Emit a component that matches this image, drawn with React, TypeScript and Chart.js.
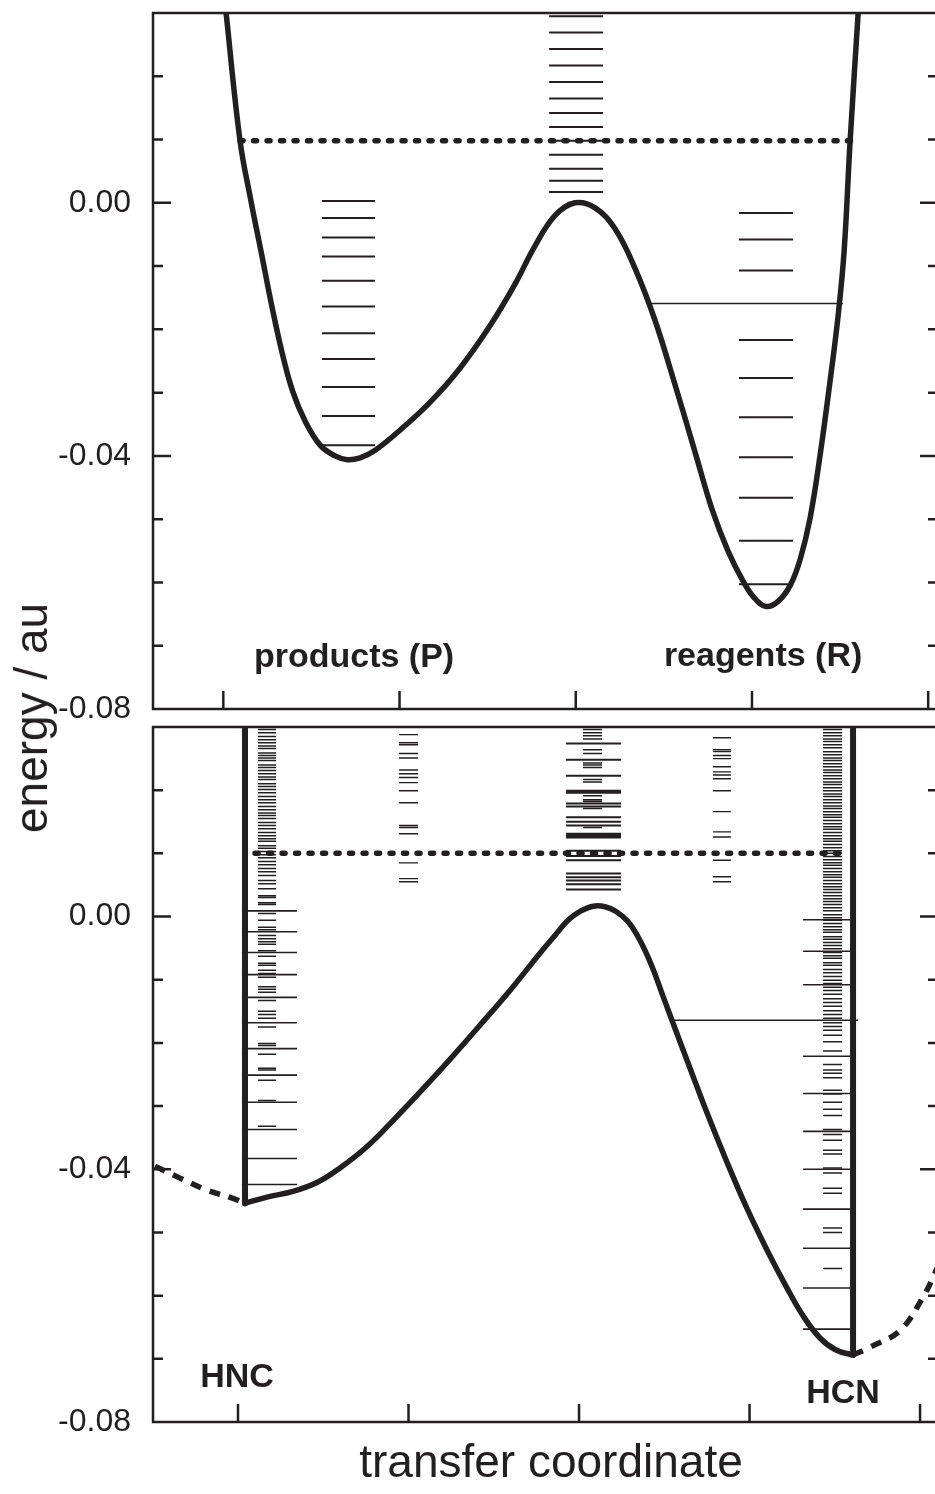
import React, { useEffect, useRef } from "react";
import { Chart, registerables } from "chart.js";

Chart.register(...registerables);

const FONT = '"Liberation Sans", Arial, Helvetica, sans-serif';
const INK = "#231f20";

// ---------- axes ----------
const energyMin = -0.08;
const energyMax = 0.03;
const energyLabelTicks = [-0.08, -0.04, 0];
const energyMinorTicks = [-0.07, -0.06, -0.05, -0.03, -0.02, -0.01, 0.01, 0.02, 0.03];
const coordTicks = [0, 1, 2, 3, 4];
const upperCoordRange = [-0.399, 4.067];
const lowerCoordRange = [-0.4985, 4.117];

// ---------- upper panel: model double well ----------
const upperCoord = [0.012, 0.095, 0.157, 0.22, 0.276, 0.339, 0.395, 0.464, 0.549, 0.634, 0.703, 0.776, 0.862, 1.004, 1.174, 1.344, 1.514, 1.656, 1.769, 1.883, 1.996, 2.11, 2.223, 2.337, 2.45, 2.564, 2.677, 2.774, 2.865, 2.944, 3.012, 3.08, 3.148, 3.216, 3.273, 3.33, 3.387, 3.444, 3.489, 3.523, 3.557, 3.605];
const upperEnergy = [0.031, 0.0098, 0.0003, -0.0085, -0.0164, -0.0243, -0.0299, -0.0345, -0.0383, -0.04, -0.0406, -0.0403, -0.0391, -0.0359, -0.0315, -0.0261, -0.0194, -0.0128, -0.0068, -0.002, 0.0, -0.0008, -0.0041, -0.0104, -0.0186, -0.0288, -0.0394, -0.0485, -0.0551, -0.0595, -0.0624, -0.0638, -0.063, -0.0605, -0.0564, -0.0498, -0.0398, -0.028, -0.0178, -0.0076, 0.0098, 0.031];

const upperProductLevels = [0.0003, -0.0024, -0.0055, -0.0085, -0.0123, -0.0164, -0.0206, -0.0247, -0.0291, -0.0337, -0.0383];
const upperBarrierLevels = [0.0295, 0.0269, 0.0243, 0.0217, 0.0191, 0.0165, 0.0142, 0.012, 0.0098, 0.0076, 0.0054, 0.0035, 0.0017];
const upperReagentLevels = [-0.0016, -0.0058, -0.0107, -0.0217, -0.0277, -0.0339, -0.0402, -0.0466, -0.0534, -0.0603];
const upperCrossLevel = [-0.0159];
const upperThreshold = [0.0098];

// ---------- lower panel: HNC / HCN isomerisation ----------
const lowerCoord = [0.041, 0.17, 0.323, 0.463, 0.598, 0.757, 0.909, 1.067, 1.243, 1.419, 1.595, 1.771, 1.865, 1.935, 2.006, 2.076, 2.147, 2.217, 2.287, 2.358, 2.428, 2.487, 2.545, 2.651, 2.751, 2.868, 2.985, 3.103, 3.22, 3.314, 3.413, 3.507, 3.607];
const lowerEnergy = [-0.0454, -0.0444, -0.0435, -0.0421, -0.0398, -0.0364, -0.0323, -0.0278, -0.0226, -0.0172, -0.0117, -0.0058, -0.0028, -0.0006, 0.0008, 0.0016, 0.0016, 0.0008, -0.0008, -0.0038, -0.0079, -0.0122, -0.0164, -0.024, -0.0311, -0.0389, -0.0462, -0.0528, -0.0588, -0.0632, -0.0667, -0.0686, -0.0694];
const hncTailCoord = [-0.487, -0.34, -0.182, -0.029, 0.041];
const hncTailEnergy = [-0.0395, -0.0414, -0.0433, -0.0446, -0.0454];
const hcnTailCoord = [3.607, 3.695, 3.883, 4.018, 4.088, 4.147];
const hcnTailEnergy = [-0.0694, -0.0683, -0.0655, -0.0602, -0.0564, -0.0528];
const hncWallCoord = [0.041, 0.041];
const hncWallEnergy = [0.031, -0.0454];
const hcnWallCoord = [3.607, 3.607];
const hcnWallEnergy = [0.031, -0.0694];

const hncBoundLevels = [0.0009, -0.0024, -0.0057, -0.0092, -0.0128, -0.0168, -0.0209, -0.0251, -0.0294, -0.0337, -0.0383, -0.0424];
const hncStateLevels = [0.0296, 0.0291, 0.0285, 0.028, 0.0275, 0.027, 0.0266, 0.0259, 0.0255, 0.0251, 0.0247, 0.024, 0.0236, 0.0231, 0.0226, 0.0221, 0.0217, 0.021, 0.0206, 0.0201, 0.0196, 0.019, 0.0185, 0.018, 0.0174, 0.0169, 0.0164, 0.016, 0.0155, 0.0149, 0.0144, 0.0139, 0.0133, 0.0128, 0.0123, 0.0119, 0.0112, 0.0108, 0.0103, 0.0098, 0.0093, 0.0087, 0.0082, 0.0076, 0.0071, 0.0065, 0.0057, 0.0052, 0.0044, 0.0033, 0.003, 0.0022, 0.0019, 0.0005, -0.0006, -0.0017, -0.0021, -0.003, -0.0035, -0.004, -0.0044, -0.0054, -0.0063, -0.0074, -0.0077, -0.0085, -0.009, -0.0096, -0.0111, -0.0115, -0.012, -0.0133, -0.015, -0.0155, -0.0161, -0.0175, -0.0201, -0.0204, -0.0218, -0.024, -0.0243, -0.0259, -0.0291, -0.0332];
const hncSideLevels = [0.0288, 0.0275, 0.0272, 0.0258, 0.0251, 0.0232, 0.0226, 0.022, 0.0212, 0.0199, 0.018, 0.0144, 0.0141, 0.0131, 0.0085, 0.006, 0.0055];
const barrierBroadLevels = [0.0274, 0.0248, 0.0223, 0.0199, 0.0196, 0.0179, 0.0174, 0.0157, 0.015, 0.0144, 0.0131, 0.0128, 0.0125, 0.0104, 0.0096, 0.0089, 0.0068, 0.0062, 0.0057, 0.0051, 0.0043];
const barrierNarrowLevels = [0.0296, 0.0291, 0.0286, 0.0281, 0.0264, 0.0258, 0.0243, 0.024, 0.0236, 0.0217, 0.0213, 0.0191, 0.0185, 0.0182, 0.0171, 0.0141];
const hcnSideLevels = [0.0283, 0.0264, 0.0261, 0.0255, 0.025, 0.0237, 0.0229, 0.0224, 0.0218, 0.0199, 0.0166, 0.0134, 0.0126, 0.0089, 0.0063, 0.0055];
const hcnStateLevels = [0.0296, 0.0291, 0.0286, 0.0281, 0.0277, 0.0272, 0.0267, 0.0261, 0.0256, 0.0251, 0.0247, 0.0242, 0.0237, 0.0232, 0.0228, 0.0223, 0.0218, 0.0213, 0.0209, 0.0204, 0.0199, 0.0194, 0.019, 0.0185, 0.018, 0.0175, 0.0171, 0.0166, 0.0161, 0.0157, 0.0152, 0.0147, 0.0142, 0.0138, 0.0133, 0.0128, 0.0123, 0.0119, 0.0114, 0.0109, 0.0104, 0.01, 0.0095, 0.009, 0.0085, 0.0081, 0.0076, 0.0071, 0.0066, 0.0062, 0.0057, 0.0052, 0.0047, 0.0043, 0.0038, 0.0033, 0.0028, 0.0024, 0.0019, 0.0014, 0.0009, 0.0003, -0.0002, -0.0006, -0.0011, -0.0016, -0.0021, -0.0025, -0.0032, -0.0036, -0.0041, -0.0046, -0.0051, -0.0057, -0.0062, -0.0066, -0.0073, -0.0077, -0.0084, -0.0089, -0.0095, -0.0101, -0.0106, -0.0112, -0.0117, -0.0123, -0.013, -0.0136, -0.0142, -0.0149, -0.0155, -0.0161, -0.0168, -0.0174, -0.018, -0.0188, -0.0198, -0.0213, -0.0234, -0.0243, -0.0248, -0.0255, -0.0275, -0.0281, -0.0294, -0.0305, -0.0315, -0.0337, -0.0345, -0.0354, -0.037, -0.0376, -0.0398, -0.0406, -0.043, -0.0438, -0.0493, -0.05, -0.0557];
const hcnBoundLevels = [-0.0005, -0.0055, -0.0108, -0.0221, -0.028, -0.034, -0.04, -0.0463, -0.0525, -0.0588, -0.0653];
const lowerCrossLevel = [-0.0164];
const lowerThreshold = [0.01];

// label anchors, in axis units
const upperLabels = [
  { text: "products (P)", at: [0.742, -0.0734] },
  { text: "reagents (R)", at: [3.063, -0.0732] },
];
const lowerLabels = [
  { text: "HNC", at: [-0.006, -0.0745] },
  { text: "HCN", at: [3.548, -0.077] },
];

// ---------- dataset helpers ----------
function zipPoints(xs: number[], ys: number[]) {
  return xs.map((x, i) => ({ x, y: ys[i] }));
}

function rungPoints(levels: number[], from: number, to: number) {
  const pts: { x: number; y: number | null }[] = [];
  levels.forEach((e) => {
    pts.push({ x: from, y: e }, { x: to, y: e }, { x: to, y: null });
  });
  return pts;
}

function ladder(levels: number[], from: number, to: number, width: number, color = INK) {
  return {
    type: "line" as const,
    data: rungPoints(levels, from, to),
    borderColor: color,
    borderWidth: width,
    borderCapStyle: "butt" as const,
    pointRadius: 0,
    spanGaps: false,
    fill: false,
    tension: 0,
    order: 3,
  };
}

function curve(xs: number[], ys: number[], width: number, extra: any = {}) {
  return {
    type: "line" as const,
    data: zipPoints(xs, ys),
    borderColor: INK,
    borderWidth: width,
    pointRadius: 0,
    fill: false,
    tension: 0.4,
    borderJoinStyle: "round" as const,
    order: 0,
    ...extra,
  };
}

function dotted(level: number[], from: number, to: number) {
  return {
    type: "line" as const,
    data: rungPoints(level, from, to),
    borderColor: INK,
    borderWidth: 5.5,
    borderDash: [3, 10.5],
    borderCapStyle: "round" as const,
    pointRadius: 0,
    fill: false,
    tension: 0,
    order: 1,
  };
}

// frame, inward ticks and in-plot captions
const framePlugin = {
  id: "frame",
  afterDatasetsDraw(chart: any, _args: any, opts: any) {
    const { ctx, chartArea: a } = chart;
    const x = chart.scales.x;
    const y = chart.scales.y;
    ctx.save();
    ctx.strokeStyle = INK;
    ctx.lineWidth = 2.5;
    ctx.lineCap = "butt";
    ctx.beginPath();
    ctx.moveTo(a.left - 1.25, a.top);
    ctx.lineTo(a.right + 20, a.top);
    ctx.moveTo(a.left, a.top);
    ctx.lineTo(a.left, a.bottom + 1.25);
    ctx.moveTo(a.left - 1.25, a.bottom);
    ctx.lineTo(a.right + 20, a.bottom);
    ctx.moveTo(a.right, a.top);
    ctx.lineTo(a.right, a.bottom);
    energyLabelTicks.forEach((v) => {
      const py = y.getPixelForValue(v);
      ctx.moveTo(a.left, py);
      ctx.lineTo(a.left + 18, py);
      ctx.moveTo(a.right, py);
      ctx.lineTo(a.right - 20, py);
    });
    energyMinorTicks.forEach((v) => {
      const py = y.getPixelForValue(v);
      ctx.moveTo(a.left, py);
      ctx.lineTo(a.left + 10, py);
      ctx.moveTo(a.right, py);
      ctx.lineTo(a.right - 12, py);
    });
    coordTicks.forEach((v) => {
      const px = x.getPixelForValue(v);
      ctx.moveTo(px, a.bottom);
      ctx.lineTo(px, a.bottom - 18);
    });
    ctx.stroke();

    ctx.fillStyle = INK;
    ctx.font = `bold 34px ${FONT}`;
    ctx.textAlign = "center";
    ctx.textBaseline = "alphabetic";
    (opts.labels || []).forEach((l: any) => {
      ctx.fillText(l.text, x.getPixelForValue(l.at[0]), y.getPixelForValue(l.at[1]));
    });
    ctx.restore();
  },
};

function energyScale() {
  return {
    type: "linear" as const,
    position: "left" as const,
    min: energyMin,
    max: energyMax,
    grid: { display: false, drawTicks: false },
    border: { display: false },
    afterBuildTicks(s: any) {
      s.ticks = energyLabelTicks.map((v) => ({ value: v }));
    },
    afterFit(s: any) {
      s.width = 153;
    },
    ticks: {
      autoSkip: false,
      padding: 22,
      color: INK,
      font: { family: FONT, size: 32 },
      callback: (v: any) => Number(v).toFixed(2),
    },
  };
}

function baseOptions(extra: any) {
  return {
    responsive: false,
    animation: false as const,
    devicePixelRatio: 1,
    events: [],
    plugins: { legend: { display: false }, tooltip: { enabled: false }, ...extra.plugins },
    layout: extra.layout,
    scales: extra.scales,
  };
}

function upperConfig(): any {
  return {
    type: "line",
    data: {
      datasets: [
        curve(upperCoord, upperEnergy, 5.5),
        dotted(upperThreshold, 0.095, 3.559),
        ladder(upperProductLevels, 0.56, 0.861, 2),
        ladder(upperBarrierLevels, 1.849, 2.155, 2),
        ladder(upperReagentLevels, 2.926, 3.233, 2),
        ladder(upperCrossLevel, 2.411, 3.516, 1.5),
      ],
    },
    options: baseOptions({
      plugins: { frame: { labels: upperLabels } },
      layout: { padding: { left: 0, right: 10, top: 50, bottom: 50 } },
      scales: {
        x: { type: "linear", display: false, min: upperCoordRange[0], max: upperCoordRange[1] },
        y: energyScale(),
      },
    }),
    plugins: [framePlugin],
  };
}

function lowerConfig(): any {
  return {
    type: "line",
    data: {
      datasets: [
        curve(lowerCoord, lowerEnergy, 5.5),
        curve(hncWallCoord, hncWallEnergy, 6, { tension: 0 }),
        curve(hcnWallCoord, hcnWallEnergy, 6, { tension: 0 }),
        curve(hncTailCoord, hncTailEnergy, 5.5, { borderDash: [11, 9] }),
        curve(hcnTailCoord, hcnTailEnergy, 5.5, { borderDash: [11, 9] }),
        dotted(lowerThreshold, 0.1, 3.56),
        ladder(hncBoundLevels, 0.023, 0.346, 1.6),
        ladder(hncStateLevels, 0.117, 0.223, 1.5),
        ladder(hncSideLevels, 0.944, 1.056, 1.4),
        ladder(barrierBroadLevels, 1.924, 2.246, 2),
        ladder(barrierNarrowLevels, 2.023, 2.135, 1.5),
        ladder(hcnSideLevels, 2.786, 2.891, 1.4),
        ladder(hcnStateLevels, 3.431, 3.543, 1.5),
        ladder(hcnBoundLevels, 3.314, 3.607, 1.6),
        ladder(lowerCrossLevel, 2.545, 3.636, 1.5),
      ],
    },
    options: baseOptions({
      plugins: { frame: { labels: lowerLabels } },
      layout: { padding: { left: 0, right: 10, top: 50, bottom: 0 } },
      scales: {
        x: {
          type: "linear",
          min: lowerCoordRange[0],
          max: lowerCoordRange[1],
          grid: { display: false, drawTicks: false },
          border: { display: false },
          ticks: { display: false },
          afterFit(s: any) {
            s.height = 72;
          },
        },
        y: energyScale(),
      },
    }),
    plugins: [framePlugin],
  };
}

export default function App() {
  const upperRef = useRef<HTMLCanvasElement>(null);
  const lowerRef = useRef<HTMLCanvasElement>(null);

  useEffect(() => {
    document.documentElement.style.overflow = "hidden";
    document.body.style.overflow = "hidden";
    const upper = new Chart(upperRef.current as HTMLCanvasElement, upperConfig());
    const lower = new Chart(lowerRef.current as HTMLCanvasElement, lowerConfig());
    return () => {
      upper.destroy();
      lower.destroy();
    };
  }, []);

  const titleStyle: React.CSSProperties = {
    position: "absolute",
    fontFamily: FONT,
    lineHeight: 1,
    color: INK,
    whiteSpace: "nowrap",
  };

  return (
    <div style={{ position: "absolute", left: 0, top: 0, width: 950, height: 1494, background: "#fff", overflow: "hidden" }}>
      <canvas ref={upperRef} width={950} height={796} style={{ position: "absolute", left: 0, top: -37 }} />
      <canvas ref={lowerRef} width={950} height={817} style={{ position: "absolute", left: 0, top: 677 }} />
      <div
        style={{
          ...titleStyle,
          left: 31,
          top: 718,
          fontSize: 46,
          transform: "translate(-50%, -50%) rotate(-90deg)",
        }}
      >
        energy / au
      </div>
      <div
        style={{
          ...titleStyle,
          left: 551,
          top: 1461,
          fontSize: 46,
          transform: "translate(-50%, -50%)",
        }}
      >
        transfer coordinate
      </div>
    </div>
  );
}
